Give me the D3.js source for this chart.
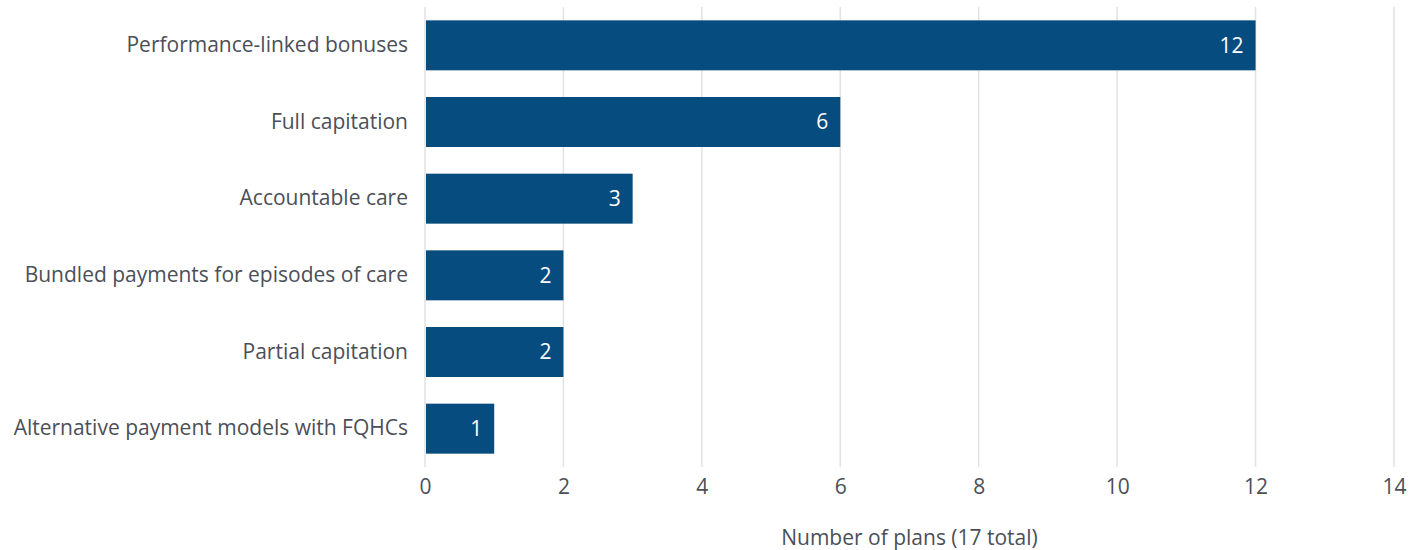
<!DOCTYPE html>
<html lang="en">
<head>
    <meta charset="UTF-8">
    <title>Number of plans</title>
    <style>
        body { margin: 0; background: #fff; }
        svg text { font-family: "Open Sans", "Noto Sans", sans-serif; }
    </style>
    <script src="https://d3js.org/d3.v7.min.js"></script>
</head>
<body>
    <svg id="chart" width="1421" height="550"></svg>
    <script>
        // Chart data
        const categories = [
            "Performance-linked bonuses",
            "Full capitation",
            "Accountable care",
            "Bundled payments for episodes of care",
            "Partial capitation",
            "Alternative payment models with FQHCs"
        ];
        const plans = [12, 6, 3, 2, 2, 1];
        const xTicks = [0, 2, 4, 6, 8, 10, 12, 14];
        const xTitle = "Number of plans (17 total)";

        const fontSize = 21;
        const textColor = "#4b4f58";

        const svg = d3.select("#chart");
        const margin = { top: 7, right: 27, bottom: 83, left: 425 };
        const width = 1421 - margin.left - margin.right,
              height = 550 - margin.top - margin.bottom;

        const g = svg.append("g").attr("transform", `translate(${margin.left},${margin.top})`);

        const x = d3.scaleLinear().domain([0, 14]).range([0, width]);
        const y = d3.scaleBand().domain(categories).range([0, height])
            .paddingInner(0.348).paddingOuter(0.174);

        // gridlines
        g.selectAll("line.grid")
            .data(xTicks)
            .enter().append("line")
            .attr("class", "grid")
            .attr("x1", d => x(d)).attr("x2", d => x(d))
            .attr("y1", 0).attr("y2", height)
            .attr("stroke", "#e2e2e2")
            .attr("stroke-width", 1.5);

        // bars
        g.selectAll("rect.bar")
            .data(plans)
            .enter().append("rect")
            .attr("class", "bar")
            .attr("x", x(0) + 1)
            .attr("y", (d, i) => y(categories[i]))
            .attr("width", d => x(d) - x(0) - 1)
            .attr("height", y.bandwidth())
            .attr("fill", "#064c7e");

        // value labels
        g.selectAll("text.val")
            .data(plans)
            .enter().append("text")
            .attr("class", "val")
            .attr("x", d => x(d) - 12)
            .attr("y", (d, i) => y(categories[i]) + y.bandwidth() / 2)
            .attr("dy", "0.35em")
            .attr("text-anchor", "end")
            .attr("fill", "#fff")
            .attr("font-size", fontSize)
            .text(d => d);

        // y axis labels
        const yAxis = g.append("g").call(d3.axisLeft(y).tickSize(0).tickPadding(17));
        yAxis.select(".domain").remove();
        yAxis.selectAll("text").attr("font-size", fontSize).attr("fill", textColor)
            .style("font-family", "'Open Sans', 'Noto Sans', sans-serif");

        // x axis
        const xAxis = g.append("g").attr("transform", `translate(0,${height})`)
            .call(d3.axisBottom(x).tickValues(xTicks).tickSize(0).tickPadding(12));
        xAxis.select(".domain").remove();
        xAxis.selectAll("text").attr("font-size", fontSize).attr("fill", textColor)
            .style("font-family", "'Open Sans', 'Noto Sans', sans-serif");

        // axis title
        svg.append("text")
            .attr("x", margin.left + width / 2)
            .attr("y", 538)
            .attr("dy", "0.35em")
            .attr("text-anchor", "middle")
            .attr("font-size", fontSize)
            .attr("fill", textColor)
            .text(xTitle);
    </script>
</body>
</html>
